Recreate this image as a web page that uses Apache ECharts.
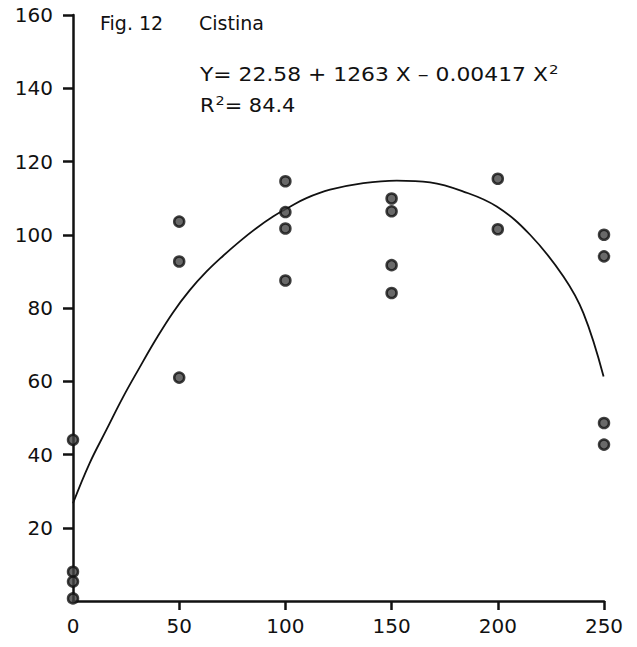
<!DOCTYPE html>
<html><head><meta charset="utf-8">
<script src="https://cdn.jsdelivr.net/npm/echarts@6/dist/echarts.min.js"></script>
<style>html,body{margin:0;padding:0;background:#fff}#c{width:637px;height:647px}</style>
</head><body><div id="c"></div>
<script>
// Observed data points (dose X, Cistina Y)
const pointX = [0, 0, 0, 0, 50, 50, 50, 100, 100, 100, 100, 150, 150, 150, 150, 200, 200, 250, 250, 250, 250];
const pointY = [44, 8, 5.3, 0.7, 103.6, 92.7, 61, 114.6, 106.2, 101.7, 87.5, 109.9, 106.4, 91.7, 84.1, 115.3, 101.5, 100, 94.1, 48.6, 42.7];
// Fitted curve as drawn in the figure
const curveX = [0, 7.8, 15.7, 23.5, 31.4, 39.2, 47.1, 54.9, 62.8, 70.6, 78.5, 86.3, 94.2, 102, 109.9, 121, 136.7, 152.4, 168.1, 183.8, 199.5, 215.2, 230.9, 240.3, 249.8];
const curveY = [26.7, 37.6, 46.7, 55.6, 63.8, 71.6, 78.8, 84.8, 89.9, 94.2, 98.2, 101.8, 105, 107.6, 110, 112.3, 114.1, 114.8, 114.3, 111.8, 107.7, 100, 88.6, 78.6, 61.3];
const yTicks = [20, 40, 60, 80, 100, 120, 140, 160];
const xTicks = [0, 50, 100, 150, 200, 250];
const figLabel = 'Fig. 12';
const figName = 'Cistina';
const eqText = 'Y= 22.58 + 1263 X \u2013 0.00417 X{s|2}';
const r2Text = 'R{s|2}= 84.4';

const font = 'DejaVu Sans';
const txt = (text, x, y, size, sx) => ({
  type: 'text', x: x, y: y, scaleX: sx || 1, silent: true,
  style: {text: text, fontFamily: font, fontSize: size, fill: '#111', textVerticalAlign: 'top',
    rich: {s: {fontFamily: font, fontSize: 13, fill: '#111', verticalAlign: 'top', padding: [0, 0, 10, 1]}}}
});
const chart = echarts.init(document.getElementById('c'), null, {renderer: 'svg'});
chart.setOption({
  backgroundColor: '#fff',
  animation: false,
  grid: {left: 73, right: 33, top: 15, bottom: 46},
  graphic: [
    txt(figLabel, 100, 13, 19),
    txt(figName, 199, 13, 19),
    txt(eqText, 200, 63, 19, 1.15),
    txt(r2Text, 200, 94, 19, 1.1)
  ],
  xAxis: {
    type: 'value', min: 0, max: 250, interval: 50,
    splitLine: {show: false},
    axisLine: {lineStyle: {color: '#111', width: 2.5}},
    axisTick: {show: true, inside: false, length: 9, lineStyle: {color: '#111', width: 2.5},
      customValues: xTicks.slice(1)},
    axisLabel: {margin: 15, fontFamily: font, fontSize: 20, color: '#111',
      customValues: xTicks, formatter: v => String(v)}
  },
  yAxis: {
    type: 'value', min: 0, max: 160, interval: 20,
    splitLine: {show: false},
    axisLine: {lineStyle: {color: '#111', width: 2.5}},
    axisTick: {show: true, length: 10, lineStyle: {color: '#111', width: 2.5}, customValues: yTicks},
    axisLabel: {margin: 20, fontFamily: font, fontSize: 20, color: '#111', customValues: yTicks,
      formatter: v => String(v)}
  },
  series: [
    {type: 'line', data: curveX.map((x, i) => [x, curveY[i]]), smooth: 0.4,
     showSymbol: false, lineStyle: {color: '#111', width: 1.8}, z: 2},
    {type: 'scatter', data: pointX.map((x, i) => [x, pointY[i]]), symbol: 'circle', symbolSize: 10,
     itemStyle: {color: '#444', borderColor: '#111', borderWidth: 2.5}, z: 3}
  ]
});
</script></body></html>
